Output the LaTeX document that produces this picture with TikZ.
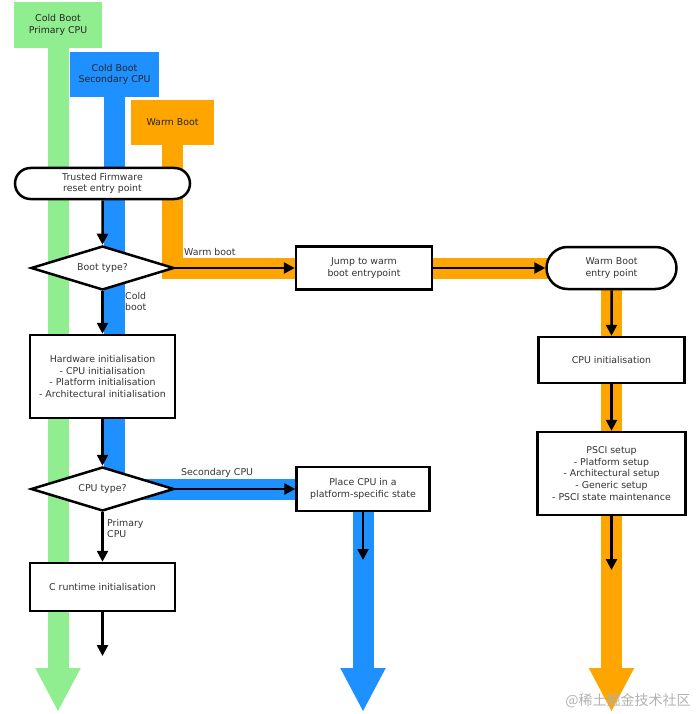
\documentclass[tikz,border=0pt]{standalone}
\usepackage{fontspec}
\setmainfont{DejaVu Sans}
\newfontfamily\cjkfont{Noto Sans CJK SC}
\usetikzlibrary{arrows.meta,shapes.geometric,shapes.misc,backgrounds}

\definecolor{lanegreen}{HTML}{90EE90}
\definecolor{laneblue}{HTML}{1E90FF}
\definecolor{laneorange}{HTML}{FFA500}

\tikzset{
  every node/.style={font=\fontsize{9.4}{11.7}\selectfont, text=black!80},
  head/.style={inner sep=0pt, align=center, minimum height=45pt, text=black!85},
  lane/.style={line width=21pt, -{Triangle[length=44pt,width=42pt]}},
  box/.style={draw=black, line width=2.5pt, fill=white, align=center, inner sep=0pt},
  entry/.style={box, rounded rectangle},
  choice/.style={box, diamond, aspect=3, minimum width=143pt, minimum height=44pt},
  flow/.style={line width=2.5pt, -{Triangle[length=11pt,width=11pt]}},
  note/.style={anchor=west, align=left, inner sep=0pt},
}

\begin{document}
\begin{tikzpicture}[x=1pt, y=-1pt]
	\useasboundingbox (0,0) rectangle (699,714);
	% lane headers
	\node[head, fill=lanegreen, minimum width=88pt, minimum height=46pt] (greenhead) at (58,25) {Cold Boot\\Primary CPU};
	\node[head, fill=laneblue, minimum width=89pt] (bluehead) at (114.5,74.5) {Cold Boot\\Secondary CPU};
	\node[head, fill=laneorange, minimum width=83pt] (orangehead) at (172.5,122.5) {Warm Boot};
	% cold boot path
	\node[entry, minimum width=175pt, minimum height=31pt] (reset) at (102.5,183.5) {Trusted Firmware\\reset entry point};
	\node[choice] (boottype) at (102.5,268) {Boot type?};
	\node[box, minimum width=145pt, minimum height=83pt] (hwinit) at (102.5,376.5) {Hardware initialisation\\- CPU initialisation\\- Platform initialisation\\- Architectural initialisation};
	\node[choice] (cputype) at (102.5,489) {CPU type?};
	\node[box, minimum width=145pt, minimum height=48pt] (crt) at (102.5,587) {C runtime initialisation};
	\coordinate (crtend) at (102.5,656);
	% secondary cpu
	\node[box, minimum width=133pt, minimum height=44pt] (place) at (363,489) {Place CPU in a\\platform-specific state};
	\coordinate (placeend) at (363,560);
	% warm boot path
	\node[box, minimum width=136pt, minimum height=43pt] (jump) at (364,268) {Jump to warm\\boot entrypoint};
	\node[entry, minimum width=130pt, minimum height=42pt] (warmentry) at (611.5,268) {Warm Boot\\entry point};
	\node[box, minimum width=146pt, minimum height=46pt] (cpuinit) at (611.5,360) {CPU initialisation};
	\node[box, minimum width=148pt, minimum height=83pt] (psci) at (611.5,473.5) {PSCI setup\\- Platform setup\\- Architectural setup\\- Generic setup\\- PSCI state maintenance};
	\coordinate (psciend) at (611.5,570);
	% lanes
	\begin{scope}[on background layer]
		\coordinate (greenend) at (58,712);
		\coordinate (blueend) at (363,712);
		\coordinate (orangeend) at (611.5,712);
		\draw[lane, lanegreen] (greenhead.south) -- (greenend);
		\draw[lane, laneblue] (bluehead.south) |- (place.center) -- (blueend);
		\draw[lane, laneorange] (orangehead.south) |- (warmentry.center) -- (orangeend);
	\end{scope}
	% arrows
	\draw[flow] (reset) -- (boottype);
	\draw[flow] (boottype) -- (hwinit);
	\draw[flow] (hwinit) -- (cputype);
	\draw[flow] (cputype) -- (crt);
	\draw[flow] (crt) -- (crtend);
	\draw[flow] (boottype) -- (jump);
	\draw[flow] (jump) -- (warmentry);
	\draw[flow] (warmentry) -- (cpuinit);
	\draw[flow] (cpuinit) -- (psci);
	\draw[flow] (psci) -- (psciend);
	\draw[flow] (cputype) -- (place);
	\draw[flow] (place) -- (placeend);
	% labels
	\node[note] (coldlbl) at (125,301.5) {Cold\\boot};
	\node[note] (primarylbl) at (107,528.5) {Primary\\CPU};
	\node[note] (warmlbl) at (184,252) {Warm boot};
	\node[note] (secondlbl) at (181,473) {Secondary CPU};
	\node[font=\cjkfont\fontsize{14}{14}\selectfont, text=black!30, inner sep=0pt] (mark) at (628,701) {@稀土掘金技术社区};
\end{tikzpicture}
\end{document}
